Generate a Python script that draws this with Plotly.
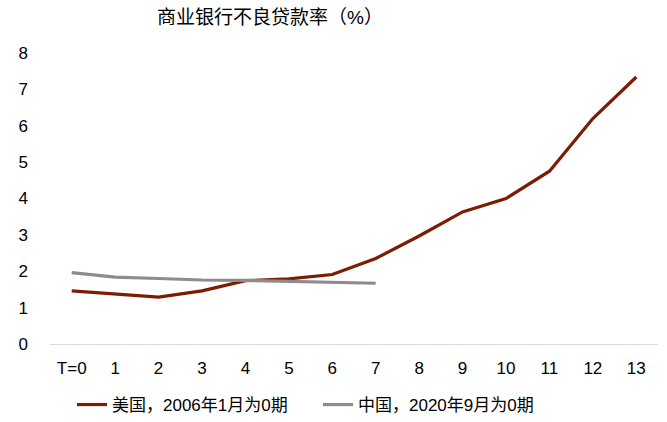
import plotly.graph_objects as go

periods = ["T=0", "1", "2", "3", "4", "5", "6", "7", "8", "9", "10", "11", "12", "13"]
us_npl = [1.46, 1.37, 1.29, 1.46, 1.74, 1.79, 1.91, 2.35, 2.97, 3.63, 4.0, 4.75, 6.2, 7.34]
cn_periods = periods[:8]
cn_npl = [1.96, 1.84, 1.80, 1.76, 1.75, 1.73, 1.69, 1.67]

us_name = "美国，2006年1月为0期"
cn_name = "中国，2020年9月为0期"
title = "商业银行不良贷款率（%）"

FONT = "Liberation Sans, Arial, Noto Sans CJK SC, sans-serif"

fig = go.Figure()
fig.add_trace(go.Scatter(x=periods, y=us_npl, name=us_name, mode="lines",
                         line=dict(color="#7b1c03", width=3.2)))
fig.add_trace(go.Scatter(x=cn_periods, y=cn_npl, name=cn_name, mode="lines",
                         line=dict(color="#8c8c8c", width=3.2)))

fig.update_layout(
    width=667, height=422,
    margin=dict(l=50, r=9, t=53, b=78, autoexpand=False),
    paper_bgcolor="white", plot_bgcolor="white",
    font=dict(family=FONT, size=17, color="#000000"),
    title=dict(text=title, x=270/667, xanchor="center", xref="container",
               y=1 - 17/422, yanchor="middle", font=dict(size=19, family=FONT)),
    showlegend=True,
    legend=dict(orientation="h", xref="container", yref="container",
                x=72/667, xanchor="left", y=1 - 405/422, yanchor="middle",
                font=dict(size=17, family=FONT), entrywidth=201, itemwidth=30,
                bgcolor="rgba(0,0,0,0)"),
    xaxis=dict(type="category", categoryorder="array", categoryarray=periods,
               showline=True, linecolor="#d9d9d9", linewidth=1, showgrid=False,
               ticks="", zeroline=False, ticklabelstandoff=9, automargin=False,
               range=[-0.5, 13.5], tickfont=dict(size=17)),
    yaxis=dict(range=[0, 8], dtick=1, showgrid=False, zeroline=False, showline=False,
               ticks="", ticklabelstandoff=21, tickformat="d", automargin=False,
               tickfont=dict(size=17)),
)

fig.write_html("out.html", config={"displayModeBar": False},
               post_script="document.body.style.margin='0';")
